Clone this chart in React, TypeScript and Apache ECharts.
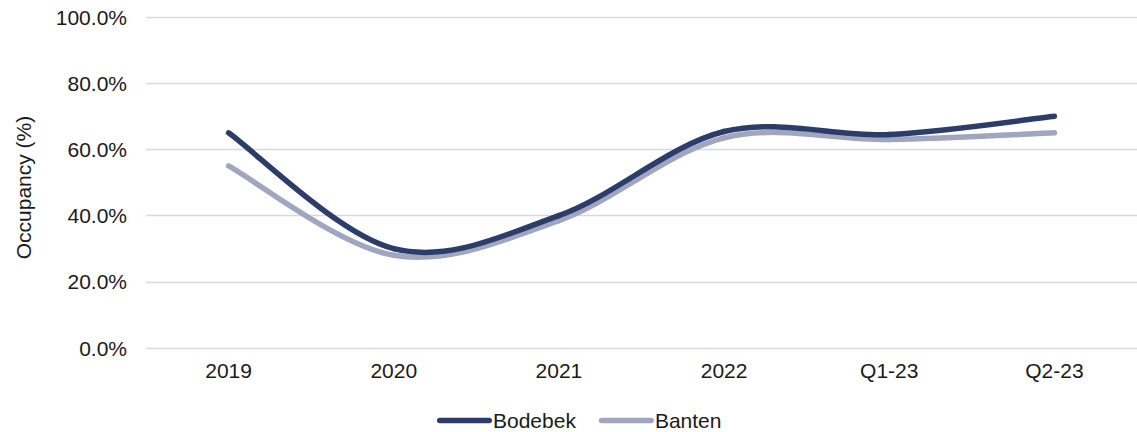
import React, { useEffect, useRef } from "react";
import * as echarts from "echarts";

const categories = ["2019", "2020", "2021", "2022", "Q1-23", "Q2-23"];
const bodebek = [65, 30, 40, 65.4, 64.5, 70];
const banten = [55, 28, 38.5, 63.5, 63, 65];
const yTicks = [0, 20, 40, 60, 80, 100];
const yTitle = "Occupancy (%)";

const FONT = "'Liberation Sans', Arial, sans-serif";
const FONT_SIZE = 21;
const TEXT = "#1a1a1a";
const DARK = "#2b3d68";
const LIGHT = "#a0a6c0";
const LINE_W = 5.5;

// Rounded-end bar used as the legend marker
const LEGEND_ICON =
  "path://M2.75,0 L53.25,0 A2.75,2.75 0 0 1 53.25,5.5 L2.75,5.5 A2.75,2.75 0 0 1 2.75,0 Z";

// Cardinal (Catmull-Rom) spline through the points, one cubic segment per data item
function smoothSeries(name: string, values: number[], color: string, z: number) {
  return {
    name,
    type: "custom",
    z,
    itemStyle: { color },
    data: values.map((v, i) => [i, v]),
    encode: { x: 0, y: 1 },
    renderItem: (params: any, api: any) => {
      const i = params.dataIndex;
      if (i === 0) return null;
      const n = values.length;
      const p = (k: number) => {
        const j = Math.max(0, Math.min(n - 1, k));
        return api.coord([j, values[j]]);
      };
      const p0 = p(i - 2);
      const p1 = p(i - 1);
      const p2 = p(i);
      const p3 = p(i + 1);
      const t = 1 / 6;
      return {
        type: "bezierCurve",
        shape: {
          x1: p1[0],
          y1: p1[1],
          cpx1: p1[0] + (p2[0] - p0[0]) * t,
          cpy1: p1[1] + (p2[1] - p0[1]) * t,
          cpx2: p2[0] - (p3[0] - p1[0]) * t,
          cpy2: p2[1] - (p3[1] - p1[1]) * t,
          x2: p2[0],
          y2: p2[1],
        },
        style: {
          fill: "none",
          stroke: color,
          lineWidth: LINE_W,
          lineCap: "round",
          lineJoin: "round",
        },
      };
    },
  };
}

export default function App() {
  const ref = useRef<HTMLDivElement>(null);

  useEffect(() => {
    if (!ref.current) return;
    const chart = echarts.init(ref.current, null, { renderer: "svg" });
    chart.setOption({
      animation: false,
      textStyle: { fontFamily: FONT },
      grid: { left: 146, top: 17, width: 1006, height: 331, containLabel: false },
      graphic: [
        {
          type: "text",
          x: 23,
          y: 187.5,
          rotation: Math.PI / 2,
          style: {
            text: yTitle,
            fontFamily: FONT,
            fontSize: FONT_SIZE,
            fill: TEXT,
            align: "center",
            verticalAlign: "middle",
          },
        },
      ],
      legend: {
        left: 432,
        top: 405,
        itemWidth: 55,
        itemHeight: 5.5,
        itemGap: 23,
        textStyle: {
          fontFamily: FONT,
          fontSize: FONT_SIZE,
          color: TEXT,
          padding: [0, 0, 0, -4],
        },
        data: [
          { name: "Bodebek", icon: LEGEND_ICON },
          { name: "Banten", icon: LEGEND_ICON },
        ],
      },
      xAxis: {
        type: "category",
        data: categories,
        boundaryGap: true,
        axisLine: { show: false },
        axisTick: { show: false },
        axisLabel: { margin: 12, fontFamily: FONT, fontSize: FONT_SIZE, color: TEXT },
      },
      yAxis: {
        type: "value",
        min: yTicks[0],
        max: yTicks[yTicks.length - 1],
        interval: 20,
        axisLine: { show: false },
        axisTick: { show: false },
        axisLabel: {
          margin: 19,
          fontFamily: FONT,
          fontSize: FONT_SIZE,
          color: TEXT,
          formatter: (v: number) => v.toFixed(1) + "%",
        },
        splitLine: { lineStyle: { color: "#d9d9d9", width: 1.3 } },
      },
      series: [
        smoothSeries("Bodebek", bodebek, DARK, 3),
        smoothSeries("Banten", banten, LIGHT, 2),
      ],
    });
    return () => chart.dispose();
  }, []);

  return (
    <div
      ref={ref}
      style={{ position: "absolute", left: 0, top: 0, width: 1137, height: 432 }}
    />
  );
}
